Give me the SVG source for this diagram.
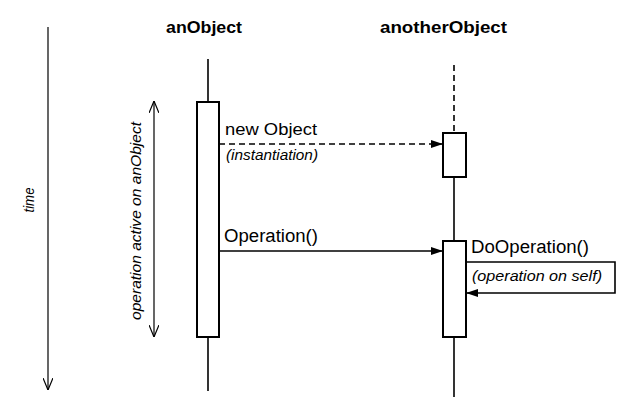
<svg xmlns="http://www.w3.org/2000/svg" width="627" height="409" viewBox="0 0 627 409">
<defs>
<style>
.bg{fill:#ffffff}
.title{font-family:"Liberation Sans",Arial,sans-serif;font-weight:bold;font-size:16px;fill:#000}
.lbl{font-family:"Liberation Sans",Arial,sans-serif;font-size:18px;fill:#000}
.note{font-family:"Liberation Sans",Arial,sans-serif;font-style:italic;font-size:14px;fill:#000}
.life{stroke:#000;stroke-width:1.6;fill:none}
.dash{stroke:#000;stroke-width:1.6;fill:none;stroke-dasharray:6 4}
.act{fill:#fff;stroke:#000;stroke-width:2}
.msg{stroke:#000;stroke-width:1.6;fill:none}
.thin{stroke:#000;stroke-width:1.2;fill:none}
</style>
<marker id="filled" viewBox="0 0 12 8" refX="12" refY="4" markerWidth="12" markerHeight="8" markerUnits="userSpaceOnUse" orient="auto">
<path d="M0,0 L12,4 L0,8 Z" fill="#000"/>
</marker>
<marker id="open" viewBox="0 0 12 10" refX="12" refY="5" markerWidth="12" markerHeight="10" markerUnits="userSpaceOnUse" orient="auto-start-reverse">
<path d="M0,0 L12,5 L0,10" fill="none" stroke="#000" stroke-width="1.2"/>
</marker>
</defs>
<rect class="bg" x="0" y="0" width="627" height="409"/>

<g id="time-axis">
<line class="thin" x1="48" y1="27" x2="48" y2="390" marker-end="url(#open)"/>
<text class="note" transform="translate(34,200) rotate(-90)" text-anchor="middle" textLength="25" lengthAdjust="spacingAndGlyphs">time</text>
</g>

<g id="activation-range">
<line class="thin" x1="154" y1="101" x2="154" y2="337" marker-start="url(#open)" marker-end="url(#open)"/>
<text class="note" style="font-size:15px" transform="translate(141,221) rotate(-90)" text-anchor="middle" textLength="198" lengthAdjust="spacingAndGlyphs">operation active on anObject</text>
</g>

<g id="anObject">
<text class="title" x="204" y="33" text-anchor="middle" textLength="76" lengthAdjust="spacingAndGlyphs">anObject</text>
<line class="life" x1="208" y1="59" x2="208" y2="102"/>
<line class="life" x1="208" y1="337" x2="208" y2="391"/>
<rect class="act" x="197" y="102" width="22" height="235"/>
</g>

<g id="anotherObject">
<text class="title" x="443.5" y="33" text-anchor="middle" textLength="127" lengthAdjust="spacingAndGlyphs">anotherObject</text>
<line class="dash" x1="454" y1="65" x2="454" y2="133"/>
<rect class="act" x="443" y="133" width="23" height="44"/>
<line class="life" x1="454" y1="177" x2="454" y2="241"/>
<rect class="act" x="443" y="241" width="23" height="96"/>
<line class="life" x1="454" y1="337" x2="454" y2="397"/>
</g>

<g id="connectors">
<line class="dash" x1="219" y1="144" x2="443" y2="144" marker-end="url(#filled)"/>
<line class="msg" x1="219" y1="251" x2="443" y2="251" marker-end="url(#filled)"/>
<polyline class="msg" points="466,262 615,262 615,293 466,293" marker-end="url(#filled)"/>
</g>

<g id="labels">
<text class="lbl" style="font-size:17px" x="225" y="135" textLength="92" lengthAdjust="spacingAndGlyphs">new Object</text>
<text class="note" x="226" y="160" textLength="92" lengthAdjust="spacingAndGlyphs">(instantiation)</text>
<text class="lbl" x="224" y="242" textLength="94" lengthAdjust="spacingAndGlyphs">Operation()</text>
<text class="lbl" x="471" y="253" textLength="118" lengthAdjust="spacingAndGlyphs">DoOperation()</text>
<text class="note" x="472" y="281" textLength="130" lengthAdjust="spacingAndGlyphs">(operation on self)</text>
</g>
</svg>
